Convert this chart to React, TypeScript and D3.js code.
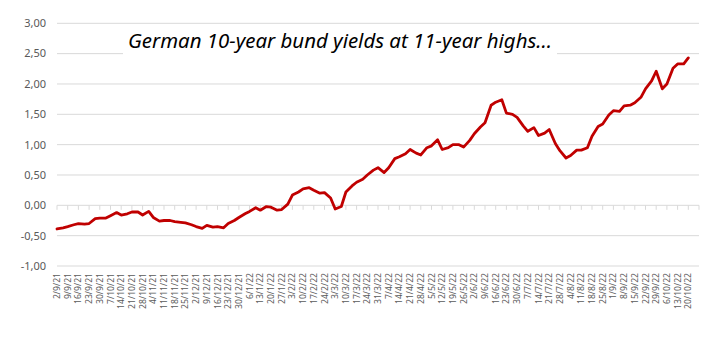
import * as d3 from 'd3';
import { useMemo } from 'react';

// Weekly axis labels (Thursdays), d/m/yy
const weekLabels = [
  "2/9/21", "9/9/21", "16/9/21", "23/9/21", "30/9/21", "7/10/21", "14/10/21", "21/10/21",
  "28/10/21", "4/11/21", "11/11/21", "18/11/21", "25/11/21", "2/12/21", "9/12/21", "16/12/21",
  "23/12/21", "30/12/21", "6/1/22", "13/1/22", "20/1/22", "27/1/22", "3/2/22", "10/2/22",
  "17/2/22", "24/2/22", "3/3/22", "10/3/22", "17/3/22", "24/3/22", "31/3/22", "7/4/22",
  "14/4/22", "21/4/22", "28/4/22", "5/5/22", "12/5/22", "19/5/22", "26/5/22", "2/6/22",
  "9/6/22", "16/6/22", "23/6/22", "30/6/22", "7/7/22", "14/7/22", "21/7/22", "28/7/22",
  "4/8/22", "11/8/22", "18/8/22", "25/8/22", "1/9/22", "8/9/22", "15/9/22", "22/9/22",
  "29/9/22", "6/10/22", "13/10/22", "20/10/22",
];

// Yield on each Thursday (label date)
const thuYields = [
  -0.39, -0.35, -0.30, -0.30, -0.21, -0.17, -0.16, -0.11, -0.16, -0.20,
  -0.25, -0.27, -0.29, -0.35, -0.33, -0.35, -0.30, -0.20, -0.10, -0.08,
  -0.03, -0.07, 0.17, 0.27, 0.25, 0.21, -0.06, 0.22, 0.38, 0.50,
  0.62, 0.62, 0.80, 0.92, 0.83, 0.98, 0.92, 1.00, 0.96, 1.18,
  1.36, 1.70, 1.52, 1.45, 1.22, 1.15, 1.25, 0.90, 0.82, 0.91,
  1.14, 1.34, 1.56, 1.64, 1.69, 1.92, 2.21, 2.00, 2.33, 2.43,
];

// Yield on the following Monday
const monYields = [
  -0.37, -0.32, -0.31, -0.22, -0.21, -0.12, -0.14, -0.11, -0.10, -0.26,
  -0.25, -0.28, -0.32, -0.38, -0.36, -0.37, -0.25, -0.14, -0.04, -0.02,
  -0.08, 0.02, 0.22, 0.29, 0.20, 0.12, -0.02, 0.32, 0.43, 0.58,
  0.54, 0.77, 0.85, 0.86, 0.95, 1.08, 0.95, 1.00, 1.07, 1.29,
  1.65, 1.74, 1.50, 1.31, 1.28, 1.19, 1.02, 0.78, 0.91, 0.95,
  1.30, 1.49, 1.55, 1.65, 1.78, 2.05, 1.92, 2.26, 2.33,
];

const yTicks = [-1, -0.5, 0, 0.5, 1, 1.5, 2, 2.5, 3];

const title = "German 10-year bund yields at 11-year highs...";

const width = 728;
const height = 343;
const plot = { left: 57, right: 699, top: 23.3, bottom: 266 };
const FONT = "'Noto Sans', sans-serif";

const parseDate = d3.timeParse("%d/%m/%y");
const fmt = d3.formatLocale({ decimal: ",", thousands: ".", grouping: [3], currency: ["", "€"], minus: "-" }).format(".2f");

export default function App() {
  const weekDates = useMemo(() => weekLabels.map(l => parseDate(l) as Date), []);

  const points = useMemo(() => {
    const pts: { date: Date; value: number }[] = [];
    weekDates.forEach((d, i) => {
      pts.push({ date: d, value: thuYields[i] });
      if (i < monYields.length) pts.push({ date: d3.timeDay.offset(d, 4), value: monYields[i] });
    });
    return pts;
  }, [weekDates]);

  const endDate = d3.timeDay.offset(weekDates[weekDates.length - 1], 7);

  const xScale = useMemo(() => d3.scaleTime()
    .domain([weekDates[0], endDate])
    .range([plot.left, plot.right]), [weekDates]);

  const yScale = useMemo(() => d3.scaleLinear()
    .domain([-1, 3])
    .range([plot.bottom, plot.top]), []);

  const linePath = d3.line<{ date: Date; value: number }>()
    .x(d => xScale(d.date))
    .y(d => yScale(d.value))(points) || "";

  const tickDates = [...weekDates, endDate];
  const y0 = yScale(0);

  return (
    <svg width={width} height={height} style={{ position: 'fixed', left: 0, top: 0, background: '#fff' }}>
      {/* gridlines */}
      {yTicks.map(t => (
        <line key={t} x1={plot.left} x2={plot.right} y1={yScale(t)} y2={yScale(t)}
          stroke="#d9d9d9" strokeWidth={1} />
      ))}
      {/* y labels */}
      {yTicks.map(t => (
        <text key={`l${t}`} x={46} y={yScale(t)} dy="0.35em" textAnchor="end"
          fontFamily={FONT} fontSize={11} fill="#595959">{fmt(t)}</text>
      ))}
      {/* x tick marks on zero line */}
      {tickDates.map((d, i) => (
        <line key={`t${i}`} x1={xScale(d)} x2={xScale(d)} y1={y0} y2={y0 + 4.5}
          stroke="#d9d9d9" strokeWidth={1} />
      ))}
      {/* x labels at the bottom */}
      {weekDates.map((d, i) => (
        <text key={`x${i}`} transform={`translate(${xScale(d)},273) rotate(-90)`}
          dy="0.35em" textAnchor="end" fontFamily={FONT} fontSize={8.6} fill="#595959">
          {weekLabels[i]}
        </text>
      ))}
      {/* title box */}
      <rect x={123} y={26} width={434} height={32} fill="#fff" />
      <text x={128} y={47.5} fontFamily={FONT} fontStyle="italic" fontSize={20}
        textLength={424} lengthAdjust="spacingAndGlyphs" fill="#000">{title}</text>
      {/* series */}
      <path d={linePath} fill="none" stroke="#C00000" strokeWidth={2.8}
        strokeLinejoin="round" strokeLinecap="round" />
    </svg>
  );
}
